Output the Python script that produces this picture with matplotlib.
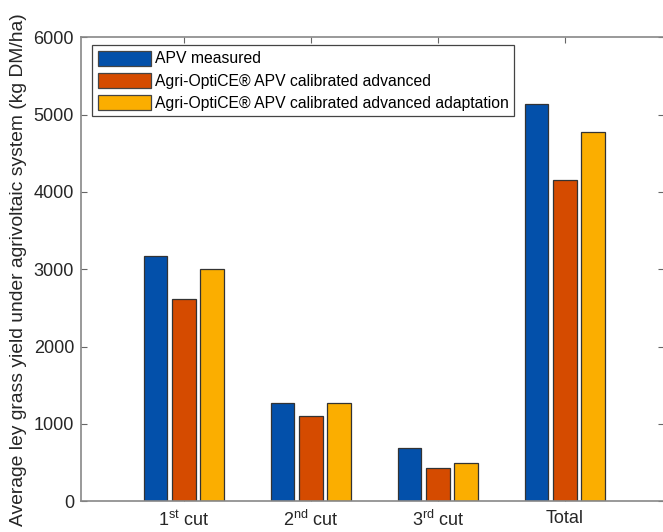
import numpy as np
import matplotlib
matplotlib.use("Agg")
import matplotlib.pyplot as plt

plt.rcParams['font.family'] = ['Liberation Sans', 'DejaVu Sans']
plt.rcParams['mathtext.fontset'] = 'custom'
plt.rcParams['mathtext.rm'] = 'Liberation Sans'
plt.rcParams['mathtext.it'] = 'Liberation Sans:italic'
plt.rcParams['mathtext.bf'] = 'Liberation Sans:bold'

# yields per cut (kg DM/ha)
cuts = [r'1$^{\mathrm{st}}$ cut', r'2$^{\mathrm{nd}}$ cut', r'3$^{\mathrm{rd}}$ cut', 'Total']
apv_measured = [3170, 1267, 693, 5132]
calibrated_adv = [2615, 1107, 427, 4152]
calibrated_adapt = [3004, 1275, 491, 4772]

series = [
    ('APV measured', apv_measured, '#0350AA'),
    ('Agri-OptiCE® APV calibrated advanced', calibrated_adv, '#D54B00'),
    ('Agri-OptiCE® APV calibrated advanced adaptation', calibrated_adapt, '#FBAE00'),
]

fig = plt.figure(figsize=(6.63, 5.32), dpi=100)
ax = fig.add_axes([81 / 663, 1 - 501.3 / 532, (664 - 81) / 663, (501.3 - 37.3) / 532])

x = np.arange(1, len(cuts) + 1)
width = 0.185
offset = 0.222
for i, (name, vals, col) in enumerate(series):
    ax.bar(x + (i - 1) * offset, vals, width, color=col, edgecolor='#333333',
           linewidth=0.9, label=name, zorder=2)

ax.set_xlim(0.19, 4.78)
ax.set_ylim(0, 6000)
ax.set_yticks(np.arange(0, 6001, 1000))
ax.set_xticks(x)
ax.set_xticklabels(cuts)
ax.tick_params(axis='both', direction='in', length=4, width=0.8, color='#666666',
               top=True, right=True, labelcolor='#262626', labelsize=13, pad=5)
ax.tick_params(axis='x', pad=6.5)
for s in ax.spines.values():
    s.set_color('#888888')
    s.set_linewidth(1.2)

ax.set_ylabel('Average ley grass yield under agrivoltaic system (kg DM/ha)',
              fontsize=13.9, color='#262626', labelpad=5)

leg = ax.legend(loc='upper left', bbox_to_anchor=(0.014, 0.99), fontsize=11.3,
                handlelength=3.4, handleheight=1.1, handletextpad=0.25,
                labelspacing=0.4, borderpad=0.35, borderaxespad=0.2,
                fancybox=False, framealpha=1, edgecolor='#444444')
leg.get_frame().set_linewidth(0.9)
for p in leg.get_patches():
    p.set_edgecolor('#444444')

fig.savefig('out.png', dpi=100)
